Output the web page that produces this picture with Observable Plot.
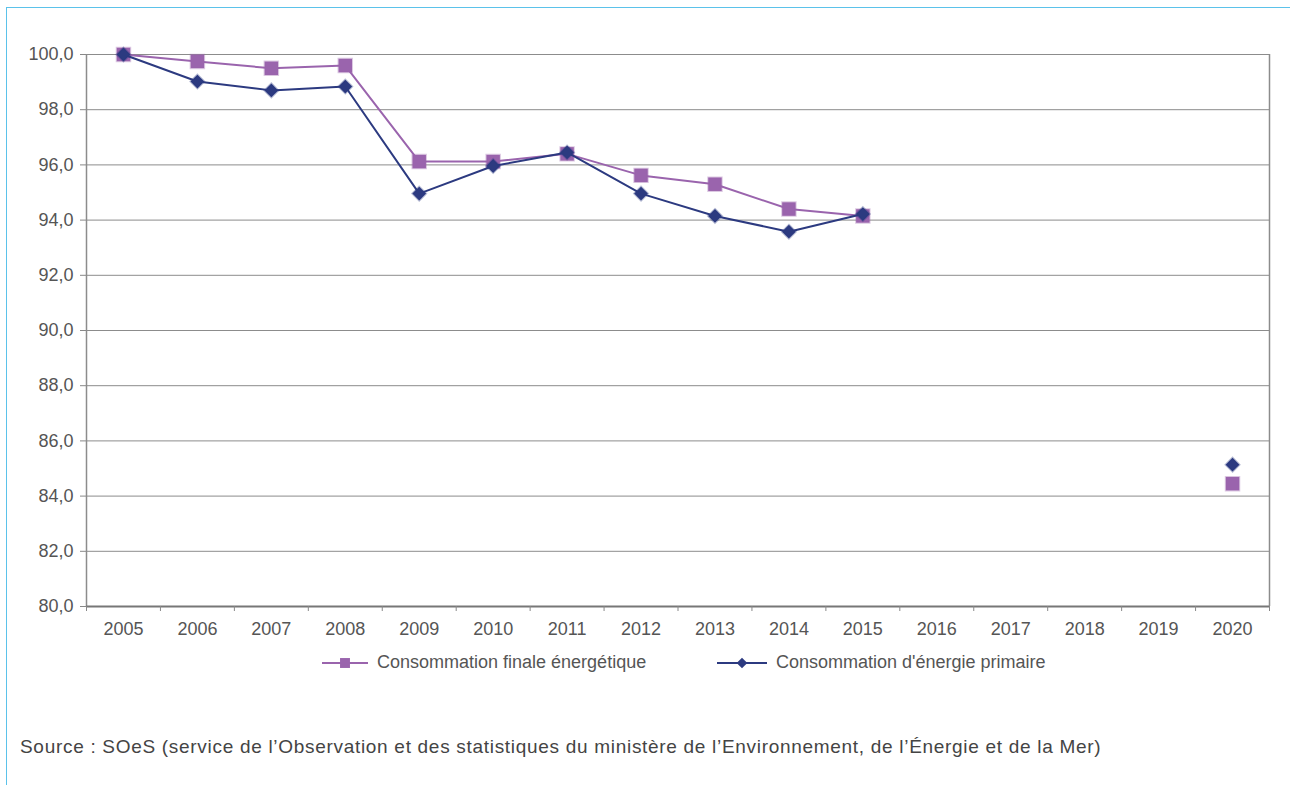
<!DOCTYPE html>
<html>
<head>
<meta charset="utf-8">
<script src="https://cdn.jsdelivr.net/npm/d3@7"></script>
<script src="https://cdn.jsdelivr.net/npm/@observablehq/plot@0.6"></script>
<style>
  html, body { margin: 0; padding: 0; background: #fff; width: 1290px; height: 785px; overflow: hidden; }
  body { font-family: "Liberation Sans", Arial, sans-serif; position: relative; }
  #frame { position: absolute; left: 6px; top: 7px; width: 1290px; height: 800px;
           border-top: 1.5px solid #5bc2ea; border-left: 1.5px solid #5bc2ea; }
  #chart { position: absolute; left: 0; top: 0; }
  .leg { position: absolute; top: 652px; font-size: 18px; color: #555; display: flex; align-items: center; }
  .leg svg { margin-right: 7px; }
  #source { position: absolute; left: 20px; top: 736px; font-size: 19px; letter-spacing: 0.7px; color: #444; white-space: nowrap; }
</style>
</head>
<body>
<div id="frame"></div>
<div id="chart"></div>
<div class="leg" style="left:322px"><svg width="48" height="20" id="legA"></svg><span>Consommation finale énergétique</span></div>
<div class="leg" style="left:717px"><svg width="52" height="20" id="legB"></svg><span>Consommation d'énergie primaire</span></div>
<div id="source">Source : SOeS (service de l’Observation et des statistiques du ministère de l’Environnement, de l’Énergie et de la Mer)</div>
<script>
const years = [2005, 2006, 2007, 2008, 2009, 2010, 2011, 2012, 2013, 2014, 2015, 2016, 2017, 2018, 2019, 2020];
const finaleYears = [2005, 2006, 2007, 2008, 2009, 2010, 2011, 2012, 2013, 2014, 2015, 2020];
const finaleValues = [100.0, 99.75, 99.5, 99.6, 96.12, 96.12, 96.4, 95.62, 95.3, 94.4, 94.15, 84.45];
const primaireYears = [2005, 2006, 2007, 2008, 2009, 2010, 2011, 2012, 2013, 2014, 2015, 2020];
const primaireValues = [100.0, 99.02, 98.7, 98.84, 94.96, 95.96, 96.45, 94.96, 94.15, 93.58, 94.22, 85.14];
const yTicks = [80, 82, 84, 86, 88, 90, 92, 94, 96, 98, 100];
const seriesNames = ["Consommation finale énergétique", "Consommation d'énergie primaire"];

const colorFinale = "#9a64ad";
const colorPrimaire = "#2c3a80";

const finale = finaleYears.map((y, i) => ({year: y, value: finaleValues[i]}));
const primaire = primaireYears.map((y, i) => ({year: y, value: primaireValues[i]}));
const finaleLine = finale.filter(d => d.year <= 2015);
const primaireLine = primaire.filter(d => d.year <= 2015);
const boundaries = [years[0] - 0.5, ...years.map(y => y + 0.5)];
const fmt = d => d.toFixed(1).replace(".", ",");

const chart = Plot.plot({
  width: 1290,
  height: 650,
  marginLeft: 86,
  marginRight: 21,
  marginTop: 54,
  marginBottom: 44,
  style: {fontFamily: "Liberation Sans, Arial, sans-serif", background: "transparent"},
  x: {domain: [years[0] - 0.5, years[years.length - 1] + 0.5], axis: null},
  y: {domain: [80, 100], axis: null},
  marks: [
    Plot.ruleY(yTicks, {stroke: "#8c8c8c", strokeWidth: 1}),
    Plot.ruleX([years[years.length - 1] + 0.5], {stroke: "#8c8c8c", strokeWidth: 1.5}),
    Plot.ruleX([years[0] - 0.5], {stroke: "#8c8c8c", strokeWidth: 1.5}),
    Plot.ruleY([80], {stroke: "#777", strokeWidth: 2}),
    Plot.axisY(yTicks, {anchor: "left", tickSize: 6, tickPadding: 7, tickFormat: fmt, fontSize: 18, color: "#555", stroke: "#888", label: null}),
    Plot.axisX(boundaries, {anchor: "bottom", tickSize: 5, tickFormat: () => "", stroke: "#888", label: null}),
    Plot.axisX(years, {anchor: "bottom", tickSize: 0, tickPadding: 16, tickFormat: d => String(d), fontSize: 18, color: "#555", label: null}),
    Plot.line(finaleLine, {x: "year", y: "value", stroke: colorFinale, strokeWidth: 2}),
    Plot.dot(finale, {x: "year", y: "value", symbol: "square", r: 7.6, fill: colorFinale, stroke: colorFinale, strokeOpacity: 0.35, strokeWidth: 2}),
    Plot.line(primaireLine, {x: "year", y: "value", stroke: colorPrimaire, strokeWidth: 2}),
    Plot.dot(primaire, {x: "year", y: "value", symbol: "diamond2", r: 6.2, fill: colorPrimaire, stroke: colorPrimaire, strokeOpacity: 0.35, strokeWidth: 2})
  ]
});
document.getElementById("chart").appendChild(chart);

// legend swatches
function swatch(id, w, color, symbol, r) {
  const svg = d3.select("#" + id);
  svg.append("line").attr("x1", 0).attr("x2", w).attr("y1", 10).attr("y2", 10).attr("stroke", color).attr("stroke-width", 2);
  svg.append("path").attr("transform", `translate(${w / 2},10)`)
    .attr("d", d3.symbol(symbol, Math.PI * r * r)()).attr("fill", color);
}
swatch("legA", 46, colorFinale, d3.symbolSquare, 5.6);
swatch("legB", 50, colorPrimaire, d3.symbolDiamond2, 4.8);
</script>
</body>
</html>
